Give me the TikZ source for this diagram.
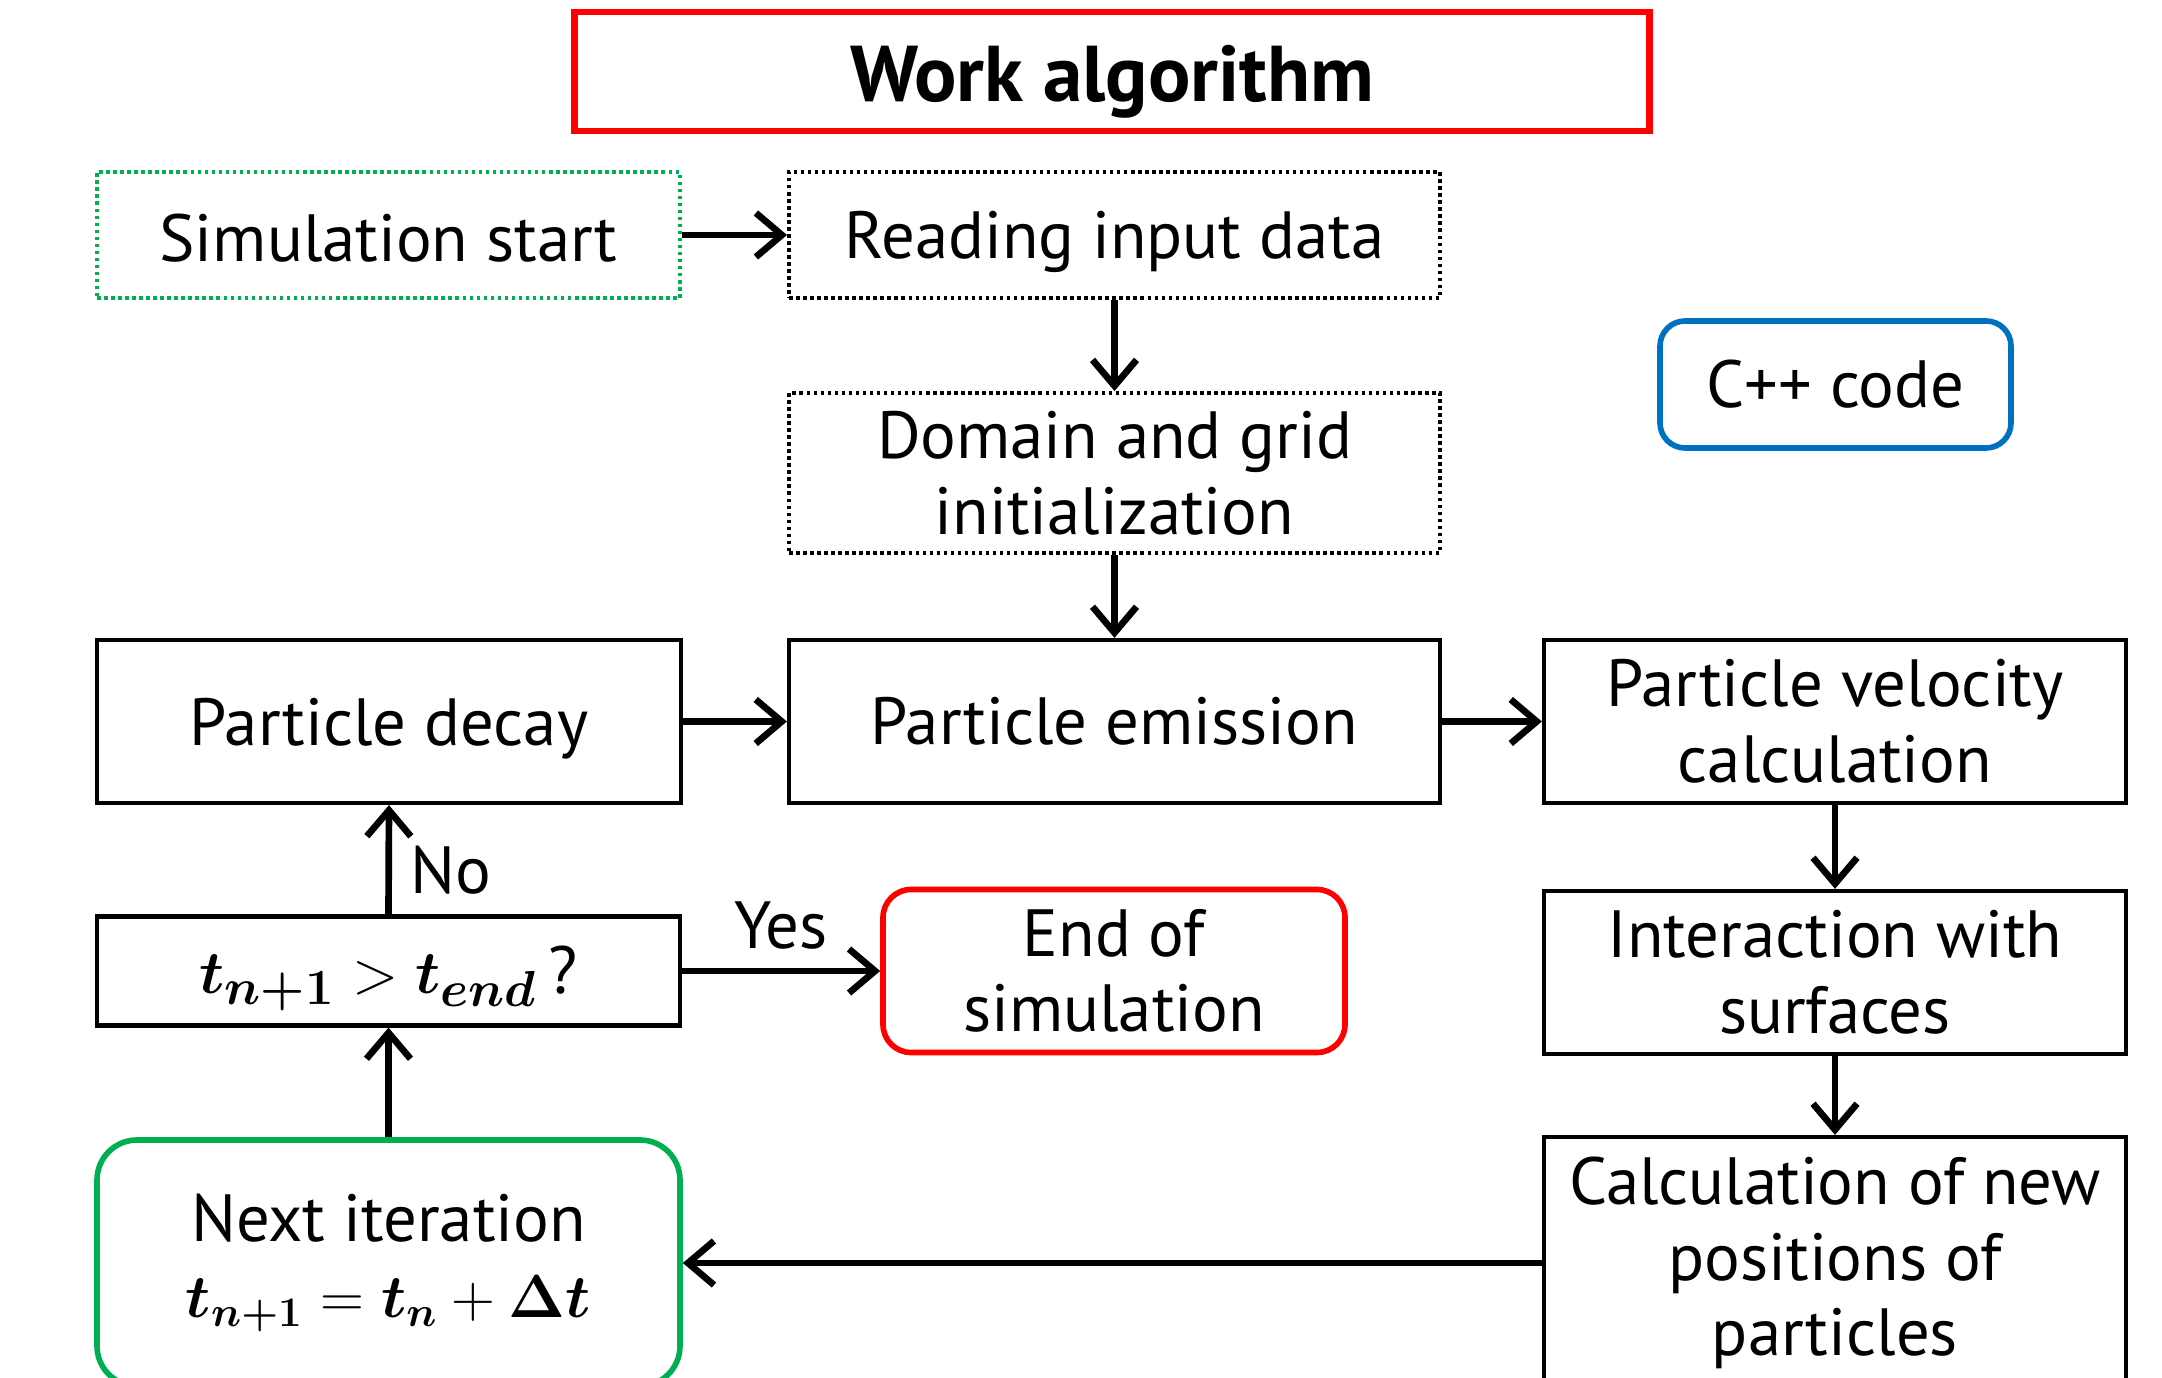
\documentclass[tikz,border=0pt]{standalone}
\usepackage{amsmath,amssymb}
\usepackage{fontspec}
\setmainfont{PT Sans}
\usepackage{tikz}
\usetikzlibrary{arrows.meta}
\definecolor{myred}{RGB}{255, 0, 0}
\definecolor{mygreen}{RGB}{0, 176, 80}
\definecolor{myblue}{RGB}{0, 112, 192}
\tikzset{>={Straight Barb[length=2.6mm, width=4.4mm]}}
\newcommand{\lowered}[2]{\raisebox{-#1}[\height][\depth]{#2}}

\begin{document}
\begin{tikzpicture}[
    font = \fontsize{19}{21.5}\selectfont,
    box/.style = {draw, line width = 1.2pt, minimum width = 5.83cm, minimum height = 1.63cm, align = center, inner sep = 2pt},
    dotbox/.style = {box, line width = 1.1pt, dash pattern = on 1pt off 1pt},
    roundbox/.style = {box, line width = 1.6pt},
    flow/.style = {->, line width = 1.9pt},
    mth/.style = {font = \fontsize{19}{24}\selectfont},
]

\useasboundingbox (0,0) rectangle (21.62,-13.78);

\node[box, draw = myred, line width = 1.9pt, minimum width = 10.75cm, minimum height = 1.19cm, font = \fontsize{22.5}{24}\selectfont\bfseries] (title) at (11.12, -0.715) {\lowered{3pt}{Work algorithm}};

% start and setup
\node[dotbox, draw = mygreen, minimum height = 1.26cm] (start) at (3.885, -2.35) {\lowered{1pt}{Simulation start}};
\node[dotbox, minimum width = 6.51cm, minimum height = 1.26cm] (read) at (11.145, -2.35) {\lowered{2pt}{Reading input data}};
\node[dotbox, minimum width = 6.51cm, minimum height = 1.60cm] (domain) at (11.145, -4.73) {Domain and grid\\initialization};
\node[roundbox, draw = myblue, minimum width = 3.51cm, minimum height = 1.27cm, rounded corners = 0.25cm] (cpp) at (18.355, -3.845) {C++ code};

% main loop
\node[box, minimum width = 5.84cm] (decay) at (3.89, -7.215) {\lowered{2pt}{Particle decay}};
\node[box, minimum width = 6.51cm] (emit) at (11.145, -7.215) {Particle emission};
\node[box, minimum width = 5.82cm] (velo) at (18.35, -7.215) {Particle velocity\\calculation};
\node[box, minimum width = 5.82cm] (inter) at (18.35, -9.725) {Interaction with\\surfaces};
\node[box, minimum width = 5.82cm, minimum height = 2.52cm] (newpos) at (18.35, -12.63) {Calculation of new\\positions of\\particles};
\node[box, minimum height = 1.09cm, mth] (cond) at (3.885, -9.71) {\lowered{2pt}{$\boldsymbol{t_{n+1}} > \boldsymbol{t_{end}}$\,?}};
\node[roundbox, draw = myred, minimum width = 4.62cm, rounded corners = 0.28cm] (finish) at (11.14, -9.71) {End of\\simulation};
\node[roundbox, draw = mygreen, minimum height = 2.46cm, rounded corners = 0.4cm] (next) at (3.885, -12.63) {Next iteration\\{\fontsize{18}{24}\selectfont $\boldsymbol{t_{n+1}} = \boldsymbol{t_{n}} + \boldsymbol{\Delta t}$}};

\draw[flow] (start.east) -- (read.west);
\draw[flow] (read.south) -- (domain.north);
\draw[flow] (domain.south) -- (emit.north);
\draw[flow] (decay.east) -- (emit.west);
\draw[flow] (emit.east) -- (velo.west);
\draw[flow] (velo.south) -- (inter.north);
\draw[flow] (inter.south) -- (newpos.north);
\draw[flow] (newpos.west) -- (next.east);
\draw[flow] (next.north) -- (cond.south);
\draw[flow] (cond.north) -- node[right, xshift = 2pt, yshift = -3pt] {No} (decay.south);
\draw[flow] (cond.east) -- node[above, yshift = 2pt] {Yes} (finish.west);

\end{tikzpicture}
\end{document}
